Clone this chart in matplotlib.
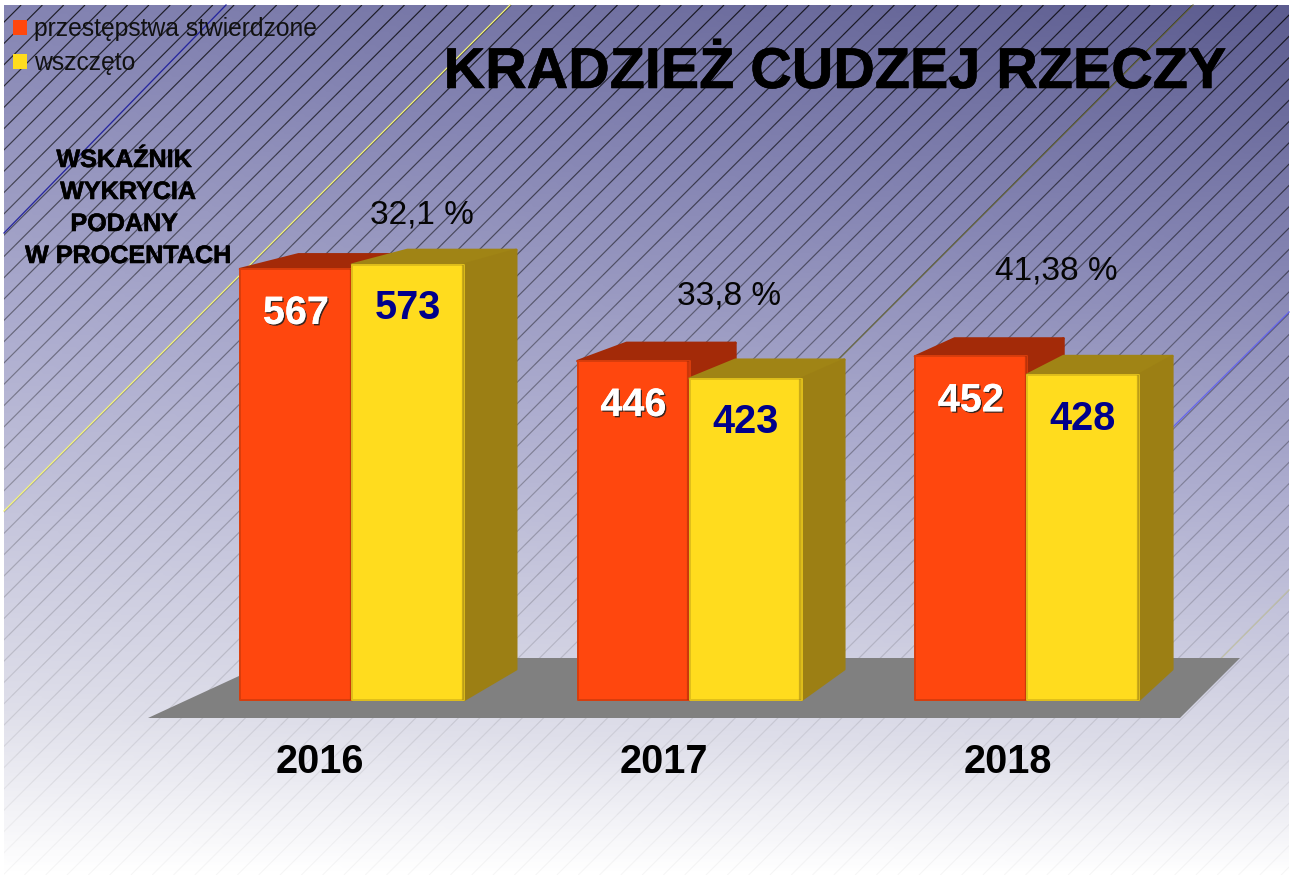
import numpy as np
import matplotlib
matplotlib.use('Agg')
import matplotlib.pyplot as plt
import matplotlib.patheffects as pe
from matplotlib.collections import LineCollection
from matplotlib.colors import LinearSegmentedColormap
from matplotlib.patches import Patch, Polygon

plt.rcParams['font.family'] = ['Liberation Sans', 'DejaVu Sans']

# dane
years = ['2016', '2017', '2018']
stwierdzone = [567, 446, 452]
wszczeto = [573, 423, 428]
wskaznik = ['32,1 %', '33,8 %', '41,38 %']
legend_labels = ['przestępstwa stwierdzone', 'wszczęto']
note_lines = ['WSKAŹNIK', 'WYKRYCIA', 'PODANY', 'W PROCENTACH']
title = 'KRADZIEŻ CUDZEJ RZECZY'

ORANGE, ORANGE_TOP, ORANGE_EDGE = '#ff470e', '#a32a08', '#d83d0c'
YELLOW, YELLOW_TOP, YELLOW_SIDE, YELLOW_EDGE = '#ffdc1e', '#a08415', '#9c7f14', '#e0bf1b'

W, H = 1292, 877
BASE_PX, PX_PER_UNIT = 700, 0.76
LEFT_PX, STEP_PX, BAR_PX = 240, 337.5, 112

fig = plt.figure(figsize=(W / 100, H / 100), dpi=100, facecolor='white')

# warstwa tla w pikselach
pix = fig.add_axes([0, 0, 1, 1], zorder=0)
pix.axis('off')

L, T, R, B = 4, 5, 1289, 875
xx, yy = np.meshgrid(np.linspace(0, 1, 300), np.linspace(0, 1, 300))
t = yy + 0.3 * (1 - xx) * (1 - yy)
cmap = LinearSegmentedColormap.from_list('tlo', [
    (0, '#5c5c8f'), (0.3, '#8585b3'), (0.56, '#adadcf'), (0.87, '#dfdfea'), (1, '#ffffff')])
pix.imshow(t, cmap=cmap, vmin=0, vmax=1, extent=(L, R, B, T), aspect='auto', zorder=0, interpolation='bilinear')
pix.set_xlim(0, W)
pix.set_ylim(H, 0)

# ukosne kreski tla
segs, cols = [], []
for x0 in np.arange(511 - 21.3 * 70, R + 900, 21.3):
    for y0 in np.arange(T, B, 30):
        y1 = min(y0 + 30, B)
        segs.append([(x0 - (y0 - T), y0), (x0 - (y1 - T), y1)])
        cols.append((0, 0, 0, 0.03 + 0.75 * (1 - y0 / B) ** 1.6))
hatch = LineCollection(segs, colors=cols, linewidths=0.85, zorder=1)
pix.add_collection(hatch)
hatch.set_clip_path(plt.Rectangle((L, T), R - L, B - T, transform=pix.transData))

# pojedyncze kolorowe linie
for (x0, y0, x1, y1, c, a) in [
    (226, T, L, 233, '#1c1c9c', 0.9),
    (510, T, L, 511, '#f4f47a', 1.0),
    (1193, T, 640, 558, '#6e6e3a', 0.8),
    (R, 312, 1170, 430, '#6060f0', 0.9),
    (R, 590, 1180, 700, '#c8c8a0', 0.7),
]:
    pix.plot([x0, x1], [y0, y1], color=c, alpha=a, lw=0.95, zorder=2)

# podloga
pix.add_patch(Polygon([(148, 718), (1180, 718), (1240, 658), (278, 658)], closed=True,
                      facecolor='#808080', edgecolor='none', zorder=3))

# wykres
ax = fig.add_axes([0, 0, 1, 1], zorder=1)
ax.patch.set_alpha(0)
ax.set_xlim(-LEFT_PX / STEP_PX, (W - LEFT_PX) / STEP_PX)
ax.set_ylim(-(H - BASE_PX) / PX_PER_UNIT, BASE_PX / PX_PER_UNIT)
ax.axis('off')

bar_w = BAR_PX / STEP_PX
positions = np.arange(len(years))


def back(x, v):
    # tylny punkt bryly, zbieznosc liczona w pikselach
    px = LEFT_PX + STEP_PX * x
    py = BASE_PX - PX_PER_UNIT * v
    bx = px + 0.028 * (2330 - px)
    by = py - 0.037 * (py + 130)
    return (bx - LEFT_PX) / STEP_PX, (BASE_PX - by) / PX_PER_UNIT


def draw_bar(x, v, front, edge, top, side, z):
    xl, xr = x, x + bar_w
    ax.add_patch(Polygon([(xl, v), back(xl, v), back(xr, v), (xr, v)], closed=True, facecolor=top,
                         edgecolor=top, lw=1.8, joinstyle='round', zorder=z))
    ax.add_patch(Polygon([(xr, v), back(xr, v), back(xr, 0), (xr, 0)], closed=True, facecolor=side,
                         edgecolor=side, lw=1.8, joinstyle='round', zorder=z))
    ax.bar(x, v, width=bar_w, align='edge', color=front, edgecolor=edge, linewidth=1.4,
           joinstyle='round', zorder=z + 0.5)
    # przyciemnienie prawej krawedzi
    ax.vlines(xr - 1.5 / STEP_PX, 0, v, color=top, alpha=0.55, lw=1.6, zorder=z + 0.6)


for i in positions:
    draw_bar(i, stwierdzone[i], ORANGE, ORANGE_EDGE, ORANGE_TOP, ORANGE_TOP, 3 + i)
    draw_bar(i + bar_w, wszczeto[i], YELLOW, YELLOW_EDGE, YELLOW_TOP, YELLOW_SIDE, 3.6 + i)

shadow = [pe.withSimplePatchShadow(offset=(1, -1), shadow_rgbFace='#222222', alpha=0.9), pe.Normal()]
for i in positions:
    ax.annotate(str(stwierdzone[i]), (i + bar_w / 2, stwierdzone[i]), xytext=(0, -31.6),
                textcoords='offset points', ha='center', va='center', fontsize=28.5, fontweight='bold',
                color='white', path_effects=shadow, zorder=10)
    ax.annotate(str(wszczeto[i]), (i + bar_w * 1.5, wszczeto[i]), xytext=(0, -31.6),
                textcoords='offset points', ha='center', va='center', fontsize=28.5, fontweight='bold',
                color='#00008b', zorder=10)

# opisy
txt = fig.add_axes([0, 0, 1, 1], zorder=2)
txt.patch.set_alpha(0)
txt.set_xlim(0, W)
txt.set_ylim(H, 0)
txt.axis('off')

for lab, xc in zip(years, [320, 664, 1008]):
    txt.text(xc, 762, lab, ha='center', va='center', fontsize=28.5, fontweight='bold', color='black')
for lab, xc, yc in zip(wskaznik, [422, 729, 1056], [215, 296, 271]):
    txt.text(xc, yc, lab, ha='center', va='center', fontsize=24, color='#050505')

thick = [pe.withStroke(linewidth=0.4, foreground='black')]
txt.text(835, 73, title, ha='center', va='center', fontsize=41.4, fontweight='bold', color='black',
         path_effects=thick)
for lab, xc, yc in zip(note_lines, [124, 128, 124, 128], [160, 192, 224, 256]):
    txt.text(xc, yc, lab, ha='center', va='center', fontsize=18.1, fontweight='bold', color='black',
             path_effects=thick)

handles = [Patch(facecolor=ORANGE, edgecolor='none', label=legend_labels[0]),
           Patch(facecolor=YELLOW, edgecolor='none', label=legend_labels[1])]
txt.legend(handles=handles, loc='upper left', bbox_to_anchor=(13 / W, 1 - 17 / H), frameon=False,
           borderaxespad=0, borderpad=0, fontsize=17.7, handlelength=0.58, handleheight=0.58,
           handletextpad=0.27, labelspacing=0.42, labelcolor='#111111')

fig.savefig('out.png', dpi=100)
